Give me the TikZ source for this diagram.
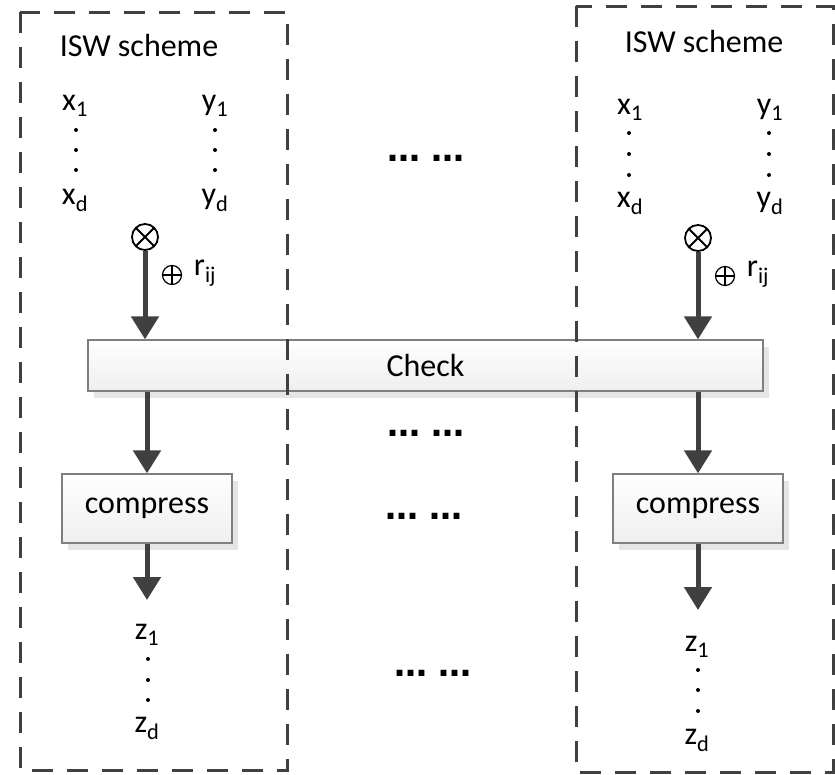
\documentclass[tikz,border=0pt]{standalone}
\usepackage{fontspec}
\setmainfont{Carlito}
\newfontfamily\dotsfont{DejaVu Sans}
\usetikzlibrary{arrows.meta,shadows}
\definecolor{darkline}{HTML}{404040}
\definecolor{blockline}{HTML}{7F7F7F}

\tikzset{
  schemebox/.style={draw=darkline,line width=3pt,dash pattern=on 21pt off 14pt},
  block/.style={draw=blockline,line width=1.3pt,top color=white,bottom color=gray!13,
    drop shadow={shadow xshift=6pt,shadow yshift=-7pt,fill=gray!20,opacity=1}},
  flow/.style={line width=5pt,draw=darkline,-{Triangle[width=27pt,length=23pt]}},
  mult/.style={circle,draw,line width=1.8pt,minimum size=26pt,inner sep=0pt,
    path picture={\draw[line width=1.8pt]
      (path picture bounding box.north west) -- (path picture bounding box.south east)
      (path picture bounding box.north east) -- (path picture bounding box.south west);}},
  addsym/.style={circle,draw,line width=1.2pt,minimum size=19pt,inner sep=0pt,
    path picture={\draw[line width=1.2pt]
      (path picture bounding box.north) -- (path picture bounding box.south)
      (path picture bounding box.east) -- (path picture bounding box.west);}},
  dotsep/.style={font=\dotsfont\bfseries\fontsize{33}{38}\selectfont},
}

\begin{document}
\begin{tikzpicture}[x=1pt,y=-1pt,font=\fontsize{32}{38}\selectfont]
\useasboundingbox (0,0) rectangle (835,774);
% middle blocks
\node[block,minimum width=675pt,minimum height=51pt] (check) at (425.5,365.5) {Check};
\node[block,minimum width=170pt,minimum height=69pt] (cmpL) at (147,508.5) {compress};
\node[block,minimum width=170pt,minimum height=69pt] (cmpR) at (698,508.5) {compress};
% the two ISW boxes
\draw[schemebox] (20,12) rectangle (287,770);
\draw[schemebox] (576,6) rectangle (833,772);
\node (iswL) at (139,46) {ISW scheme};
\node (iswR) at (704,42) {ISW scheme};
% inputs, left
\node (xoneL) at (75,106) {x\textsubscript{1}};
\node (yoneL) at (215,106) {y\textsubscript{1}};
\node (xdL) at (75,200) {x\textsubscript{d}};
\node (ydL) at (215,200) {y\textsubscript{d}};
\foreach \y in {130,150,170} {
  \fill (76,\y) circle (2pt);
  \fill (215,\y) circle (2pt);
}
% inputs, right
\node (xoneR) at (630,110) {x\textsubscript{1}};
\node (yoneR) at (770,110) {y\textsubscript{1}};
\node (xdR) at (630,203) {x\textsubscript{d}};
\node (ydR) at (770,203) {y\textsubscript{d}};
\foreach \y in {133,154,175} {
  \fill (629,\y) circle (2pt);
  \fill (769,\y) circle (2pt);
}
% products and refresh
\node[mult] (mulL) at (145,237) {};
\node[mult] (mulR) at (698,238) {};
\node[addsym] (addL) at (172,275) {};
\node (rL) at (205,273) {r\textsubscript{ij}};
\node[addsym] (addR) at (725,276) {};
\node (rR) at (758,274) {r\textsubscript{ij}};
% outputs
\node (zoneL) at (147,635) {z\textsubscript{1}};
\node (zdL) at (147,728) {z\textsubscript{d}};
\foreach \y in {659,680,700} \fill (148,\y) circle (2pt);
\node (zoneR) at (697,647) {z\textsubscript{1}};
\node (zdR) at (697,740) {z\textsubscript{d}};
\foreach \y in {670,690,711} \fill (698,\y) circle (2pt);
\coordinate (outL) at (147,600);
\coordinate (outR) at (698,610);
% ellipses between the boxes
\node[dotsep] (gapA) at (426,158) {… …};
\node[dotsep] (gapB) at (426,433) {… …};
\node[dotsep] (gapC) at (424,516) {… …};
\node[dotsep] (gapD) at (433,673) {… …};
% arrows
\draw[flow] (mulL.south) -- (mulL.south |- check.north);
\draw[flow] (mulR.south) -- (mulR.south |- check.north);
\draw[flow] (check.south -| cmpL.north) -- (cmpL.north);
\draw[flow] (check.south -| cmpR.north) -- (cmpR.north);
\draw[flow] (cmpL.south) -- (outL);
\draw[flow] (cmpR.south) -- (outR);
\end{tikzpicture}
\end{document}
